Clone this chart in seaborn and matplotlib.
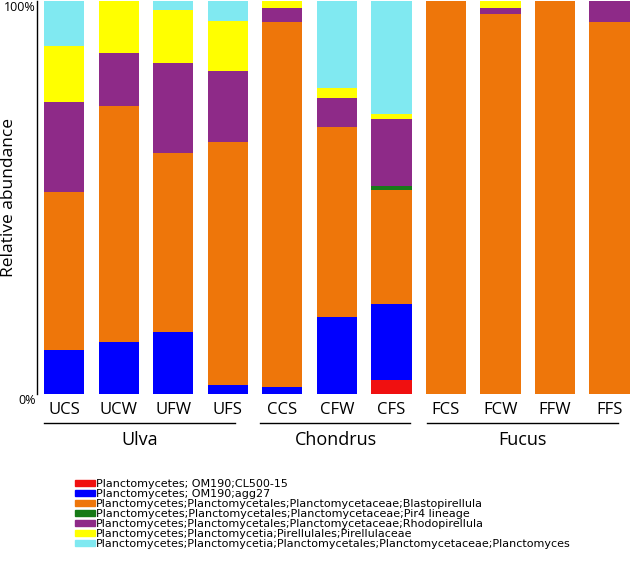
import matplotlib
matplotlib.use("Agg")
import matplotlib.pyplot as plt
import matplotlib.patches as mpatches
import numpy as np
import seaborn as sns

samples = ['UCS', 'UCW', 'UFW', 'UFS', 'CCS', 'CFW', 'CFS', 'FCS', 'FCW', 'FFW', 'FFS']
cl500_15 = [0, 0, 0, 0, 0, 0, 0.035, 0, 0, 0, 0]
agg27 = [0.112, 0.132, 0.158, 0.024, 0.017, 0.197, 0.193, 0, 0, 0, 0]
blastopirellula = [0.402, 0.601, 0.455, 0.616, 0.929, 0.482, 0.290, 1.0, 0.966, 1.0, 0.946]
pir4 = [0, 0, 0, 0, 0, 0, 0.011, 0, 0, 0, 0]
rhodopirellula = [0.228, 0.135, 0.228, 0.181, 0.036, 0.073, 0.170, 0, 0.017, 0, 0.054]
pirellulaceae = [0.144, 0.132, 0.137, 0.128, 0.018, 0.026, 0.013, 0, 0.017, 0, 0]
planctomyces = [0.114, 0, 0.022, 0.051, 0, 0.222, 0.288, 0, 0, 0, 0]

taxa = [
    'Planctomycetes; OM190;CL500-15',
    'Planctomycetes; OM190;agg27',
    'Planctomycetes;Planctomycetales;Planctomycetaceae;Blastopirellula',
    'Planctomycetes;Planctomycetales;Planctomycetaceae;Pir4 lineage',
    'Planctomycetes;Planctomycetales;Planctomycetaceae;Rhodopirellula',
    'Planctomycetes;Planctomycetia;Pirellulales;Pirellulaceae',
    'Planctomycetes;Planctomycetia;Planctomycetales;Planctomycetaceae;Planctomyces',
]
colors = ['#F01010', '#0000FF', '#EE760A', '#177A17', '#8E2A88', '#FFFF00', '#80E9F1']

groups = ['Ulva', 'Chondrus', 'Fucus']
group_spans = [(-0.37, 3.14), (3.6, 6.35), (6.66, 10.16)]

series = [cl500_15, agg27, blastopirellula, pir4, rhodopirellula, pirellulaceae, planctomyces]
cum = np.cumsum(np.array(series), axis=0)

fig = plt.figure(figsize=(6.3, 5.64), dpi=100)
ax = fig.add_axes([0.059, 0.3014, 0.941, 0.697])

# draw from the top layer down so each lower layer covers the one above
for i in range(len(series) - 1, -1, -1):
    sns.barplot(x=samples, y=cum[i], color=colors[i], saturation=1,
                width=0.74, linewidth=0, ax=ax)

ax.set_xlim(-0.495, 10.376)
ax.set_ylim(0, 1)
for s in ['top', 'right', 'bottom']:
    ax.spines[s].set_visible(False)
ax.spines['left'].set_linewidth(1)
ax.set_yticks([0, 1])
ax.set_yticklabels(['0%', '100%'], fontsize=9, family='Open Sans')
ax.get_yticklabels()[0].set_va('top')
ax.get_yticklabels()[1].set_va('top')
ax.tick_params(axis='y', length=0, pad=1)
ax.tick_params(axis='x', length=0, pad=6)
ax.set_xticks(range(len(samples)))
ax.set_xticklabels(samples, fontsize=12, family='Open Sans')
ax.set_xlabel('')
ax.set_ylabel('Relative abundance', fontsize=12.5, family='Open Sans')
ax.yaxis.set_label_coords(-0.034, 0.5)

for name, (a, b) in zip(groups, group_spans):
    ax.plot([a, b], [-0.074, -0.074], color='black', lw=1, clip_on=False,
            transform=ax.get_xaxis_transform())
    ax.text((a + b) / 2, -0.117, name, ha='center', va='center', fontsize=13,
            family='Open Sans', transform=ax.get_xaxis_transform())

handles = [mpatches.Patch(color=c, label=t) for c, t in zip(colors, taxa)]
fig.legend(handles=handles, loc='upper left', bbox_to_anchor=(0.119, 0.150),
           frameon=False, prop={'family': 'DejaVu Sans', 'size': 8.0},
           handlelength=1.8, handleheight=0.45, handletextpad=0.1,
           labelspacing=0.0, borderpad=0, borderaxespad=0)

fig.savefig('out.png', dpi=100)
